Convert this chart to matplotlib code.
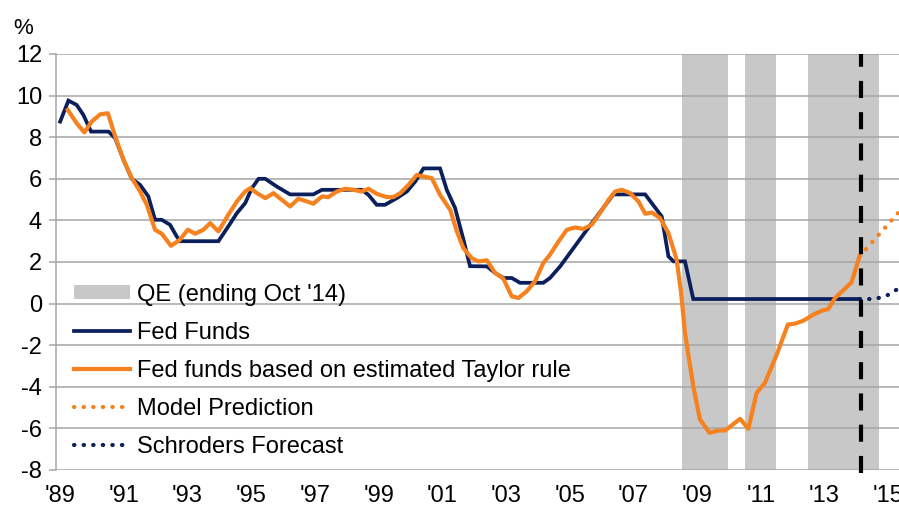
import matplotlib
matplotlib.use('Agg')
import matplotlib.pyplot as plt
from matplotlib.patches import Patch
from matplotlib.lines import Line2D

plt.rcParams['font.family'] = ['Liberation Sans', 'DejaVu Sans']
plt.rcParams['axes.unicode_minus'] = False

# Fed funds rate (decimal year, %)
fed_years = [1989.0, 1989.26, 1989.52, 1989.73, 1989.97, 1990.52, 1990.73, 1990.99,
             1991.25, 1991.51, 1991.77, 1991.98, 1992.19, 1992.45, 1992.66, 1992.77,
             1993.97, 1994.28, 1994.55, 1994.81, 1995.02, 1995.23, 1995.44, 1995.80,
             1996.22, 1996.95, 1997.22, 1998.47, 1998.68, 1998.94, 1999.20, 1999.57,
             1999.89, 2000.15, 2000.41, 2000.93, 2001.14, 2001.40, 2001.66, 2001.87,
             2002.40, 2002.66, 2002.92, 2003.18, 2003.44, 2004.17, 2004.38, 2004.70,
             2005.54, 2006.37, 2007.37, 2007.89, 2008.10, 2008.26, 2008.62, 2008.88,
             2014.10]
fed_vals = [8.75, 9.76, 9.55, 9.07, 8.27, 8.27, 7.95, 6.91,
            6.0, 5.71, 5.15, 4.03, 4.03, 3.79, 3.23, 3.0,
            3.0, 3.71, 4.35, 4.83, 5.55, 6.0, 6.0, 5.63,
            5.25, 5.25, 5.47, 5.47, 5.23, 4.75, 4.75, 5.07,
            5.39, 5.87, 6.5, 6.5, 5.47, 4.6, 3.1, 1.8,
            1.79, 1.47, 1.23, 1.23, 1.0, 1.0, 1.23, 1.79,
            3.55, 5.25, 5.25, 4.19, 2.27, 2.03, 2.03, 0.22,
            0.22]

# Fed funds based on estimated Taylor rule
taylor_years = [1989.24, 1989.52, 1989.76, 1989.99, 1990.26, 1990.50, 1990.73, 1990.99,
                1991.25, 1991.51, 1991.72, 1991.98, 1992.19, 1992.48, 1992.74, 1993.01,
                1993.24, 1993.50, 1993.71, 1993.97, 1994.28, 1994.55, 1994.81, 1994.97,
                1995.18, 1995.44, 1995.70, 1995.96, 1996.22, 1996.48, 1996.75, 1996.95,
                1997.22, 1997.42, 1997.69, 1997.95, 1998.21, 1998.47, 1998.68, 1998.94,
                1999.25, 1999.46, 1999.68, 1999.94, 2000.20, 2000.41, 2000.67, 2000.93,
                2001.25, 2001.45, 2001.66, 2001.92, 2002.13, 2002.40, 2002.66, 2002.92,
                2003.18, 2003.39, 2003.65, 2003.91, 2004.17, 2004.38, 2004.65, 2004.91,
                2005.17, 2005.43, 2005.69, 2005.95, 2006.22, 2006.43, 2006.64, 2006.90,
                2007.16, 2007.37, 2007.58, 2007.84, 2008.10, 2008.36, 2008.50, 2008.62,
                2008.88, 2009.09, 2009.39, 2009.67, 2009.88, 2010.35, 2010.61, 2010.87,
                2011.13, 2011.50, 2011.85, 2012.08, 2012.34, 2012.65, 2012.92, 2013.12,
                2013.33, 2013.59, 2013.85, 2014.10]
taylor_vals = [9.31, 8.67, 8.23, 8.75, 9.1, 9.15, 8.03, 6.91,
               6.03, 5.39, 4.75, 3.55, 3.36, 2.78, 3.04, 3.55,
               3.36, 3.55, 3.87, 3.47, 4.27, 4.91, 5.39, 5.55,
               5.31, 5.07, 5.31, 4.99, 4.67, 5.04, 4.91, 4.80,
               5.15, 5.12, 5.39, 5.52, 5.47, 5.39, 5.52, 5.28,
               5.12, 5.12, 5.31, 5.71, 6.19, 6.11, 6.03, 5.23,
               4.5, 3.5, 2.67, 2.19, 2.03, 2.08, 1.47, 1.19,
               0.35, 0.27, 0.59, 1.07, 1.95, 2.35, 2.99, 3.55,
               3.66, 3.59, 3.79, 4.35, 4.99, 5.39, 5.47, 5.31,
               4.91, 4.32, 4.38, 4.11, 3.39, 2.11, 0.5, -1.41,
               -3.97, -5.57, -6.21, -6.1, -6.1, -5.54, -6.02, -4.29,
               -3.81, -2.45, -1.01, -0.96, -0.82, -0.53, -0.34, -0.26,
               0.27, 0.64, 1.02, 2.27]

model_years = [2014.10, 2015.35]
model_vals = [2.27, 4.42]

forecast_years = [2014.10, 2014.60, 2015.00, 2015.35]
forecast_vals = [0.22, 0.22, 0.42, 0.75]

qe_periods = [(2008.52, 2009.98), (2010.50, 2011.47), (2012.49, 2014.70)]
qe_end = 2014.15

tick_years = list(range(1989, 2016, 2))
tick_labels = ["'" + str(y)[2:] for y in tick_years]

NAVY = '#0b1f5c'
ORANGE = '#f5821f'
GREY = '#c8c8c8'
GRID = '#a6a6a6'
FS = 17

fig = plt.figure(figsize=(8.99, 5.07), dpi=100)
ax = fig.add_axes([56 / 899, 1 - 470 / 507, 1 - 56 / 899, (470 - 54) / 507])

for start, end in qe_periods:
    ax.axvspan(start, end, color=GREY, lw=0, zorder=0.2)

ax.plot(fed_years, fed_vals, color=NAVY, lw=2.7, zorder=3, solid_joinstyle='miter')
ax.plot(taylor_years, taylor_vals, color=ORANGE, lw=3.0, zorder=4)
ax.plot(model_years, model_vals, color=ORANGE, lw=3.0, dashes=(0.1, 2.2),
        dash_capstyle='round', zorder=4)
ax.plot(forecast_years, forecast_vals, color=NAVY, lw=3.0, dashes=(0.1, 2.2),
        dash_capstyle='round', zorder=3)
ax.axvline(qe_end, ymin=-0.008, ymax=1, color='black', lw=3.0, dashes=(4.1, 3.4),
           zorder=5, clip_on=False)

ax.set_xlim(1988.87, 2015.34)
ax.set_ylim(-8, 12)
ax.set_yticks(range(-8, 13, 2))
ax.set_xticks(tick_years)
ax.set_xticklabels(tick_labels)
ax.tick_params(axis='x', length=0, pad=11, labelsize=FS)
ax.tick_params(axis='y', length=5, width=1.1, color=GRID, pad=5, labelsize=FS)
ax.yaxis.grid(True, color=GRID, lw=1.1)
ax.set_axisbelow(True)
for side in ['top', 'right', 'bottom']:
    ax.spines[side].set_visible(False)
ax.spines['left'].set_color(GRID)
ax.spines['left'].set_linewidth(1.1)

fig.text(23 / 899, 1 - 28 / 507, '%', fontsize=FS - 1, ha='center', va='center')

handles = [
    Patch(facecolor=GREY, edgecolor='none'),
    Line2D([], [], color=NAVY, lw=2.7),
    Line2D([], [], color=ORANGE, lw=3.0),
    Line2D([], [], color=ORANGE, lw=3.0, dashes=(0.1, 2.2), dash_capstyle='round'),
    Line2D([], [], color=NAVY, lw=3.0, dashes=(0.1, 2.2), dash_capstyle='round'),
]
labels = ["QE (ending Oct '14)", 'Fed Funds', 'Fed funds based on estimated Taylor rule',
          'Model Prediction', 'Schroders Forecast']
leg = fig.legend(handles, labels, loc='upper left',
                 bbox_to_anchor=(74 / 899, 1 - 283.5 / 507), fontsize=FS,
                 frameon=False, borderpad=0, borderaxespad=0, handlelength=2.37,
                 handletextpad=0.3, labelspacing=0.68, handleheight=0.54)
leg.set_zorder(6)

fig.savefig('out.png', dpi=100)
